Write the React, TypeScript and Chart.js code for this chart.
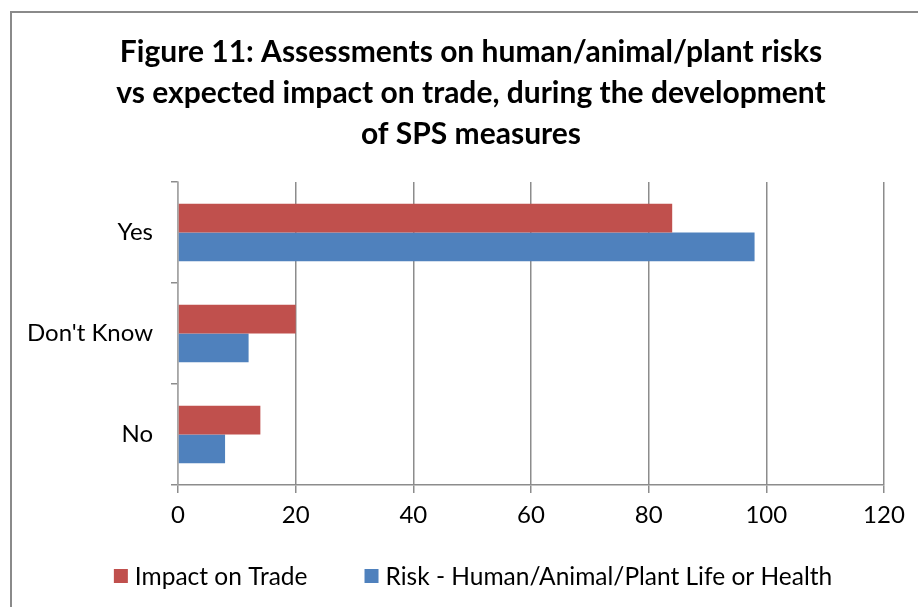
import React, { useEffect, useRef } from 'react';
import { Chart, registerables } from 'chart.js';

Chart.register(...registerables);

const categories = ['Yes', "Don't Know", 'No'];
const impactOnTrade = [84, 20, 14];
const riskHealth = [98, 12, 8];
const seriesLabels = ['Impact on Trade', 'Risk - Human/Animal/Plant Life or Health'];
const seriesColors = ['#C0504D', '#4F81BD'];
const xMin = 0;
const xMax = 120;
const xStep = 20;
const titleLines = [
  'Figure 11: Assessments on human/animal/plant risks',
  'vs expected impact on trade, during the development',
  'of SPS measures',
];

const FONT = 'Lato, "Open Sans", sans-serif';

const outerBorder = {
  id: 'outerBorder',
  beforeDraw(chart: any) {
    const ctx = chart.ctx;
    ctx.save();
    ctx.fillStyle = '#ffffff';
    ctx.fillRect(0, 0, chart.width, chart.height);
    ctx.strokeStyle = '#8a8a8a';
    ctx.lineWidth = 2;
    ctx.strokeRect(11, 12, chart.width + 40, chart.height + 40);
    ctx.restore();
  },
};

const customTitle = {
  id: 'customTitle',
  afterDraw(chart: any) {
    const ctx = chart.ctx;
    ctx.save();
    ctx.font = `bold 30px ${FONT}`;
    ctx.fillStyle = '#000000';
    ctx.textAlign = 'center';
    ctx.textBaseline = 'middle';
    titleLines.forEach((line, i) => {
      ctx.fillText(line, 471, 52 + i * 41);
    });
    ctx.restore();
  },
};

const customLegend = {
  id: 'customLegend',
  afterDraw(chart: any) {
    const ctx = chart.ctx;
    const ds = chart.data.datasets;
    const box = 14;
    const gap = 7;
    const spacing = 57;
    const centerX = 473;
    const centerY = 576;
    ctx.save();
    ctx.font = `24.5px ${FONT}`;
    ctx.textBaseline = 'middle';
    ctx.textAlign = 'left';
    const widths = ds.map((d: any) => box + gap + ctx.measureText(d.label).width);
    const total = widths.reduce((a: number, b: number) => a + b, 0) + spacing * (ds.length - 1);
    let x = centerX - total / 2;
    ds.forEach((d: any, i: number) => {
      ctx.fillStyle = d.backgroundColor;
      ctx.fillRect(x, centerY - box / 2, box, box);
      ctx.fillStyle = '#000000';
      ctx.fillText(d.label, x + box + gap, centerY + 1);
      x += widths[i] + spacing;
    });
    ctx.restore();
  },
};

export default function App() {
  const ref = useRef<HTMLCanvasElement | null>(null);

  useEffect(() => {
    if (!ref.current) return;
    const chart = new Chart(ref.current, {
      type: 'bar',
      data: {
        labels: categories,
        datasets: [
          {
            label: seriesLabels[0],
            data: impactOnTrade,
            backgroundColor: seriesColors[0],
            borderWidth: 0,
            categoryPercentage: 0.571,
            barPercentage: 1,
          },
          {
            label: seriesLabels[1],
            data: riskHealth,
            backgroundColor: seriesColors[1],
            borderWidth: 0,
            categoryPercentage: 0.571,
            barPercentage: 1,
          },
        ],
      },
      options: {
        indexAxis: 'y',
        responsive: false,
        animation: false,
        devicePixelRatio: 1,
        layout: { padding: { left: 12, right: 34, top: 182, bottom: 67 } },
        plugins: {
          legend: { display: false },
          tooltip: { enabled: false },
          title: { display: false },
        },
        scales: {
          x: {
            type: 'linear',
            min: xMin,
            max: xMax,
            ticks: {
              stepSize: xStep,
              color: '#000000',
              font: { family: FONT, size: 24 },
              padding: 8,
            },
            grid: {
              color: '#8c8c8c',
              lineWidth: 1.5,
              tickLength: 8,
              drawOnChartArea: true,
            },
            border: { display: true, color: '#8c8c8c', width: 1.5 },
            afterFit(scale: any) {
              scale.height = 55;
            },
          },
          y: {
            type: 'category',
            ticks: {
              color: '#000000',
              font: { family: FONT, size: 24 },
              padding: 18,
            },
            grid: {
              offset: true,
              drawOnChartArea: false,
              color: '#8c8c8c',
              lineWidth: 1.5,
              tickLength: 7,
            },
            border: { display: true, color: '#a6a6a6', width: 1.5 },
            afterFit(scale: any) {
              scale.width = 166;
            },
          },
        },
      },
      plugins: [outerBorder, customTitle, customLegend],
    });
    return () => chart.destroy();
  }, []);

  return (
    <div style={{ position: 'absolute', left: 0, top: 0, width: 918, height: 607 }}>
      <canvas ref={ref} width={918} height={607} style={{ width: 918, height: 607, display: 'block' }} />
    </div>
  );
}
